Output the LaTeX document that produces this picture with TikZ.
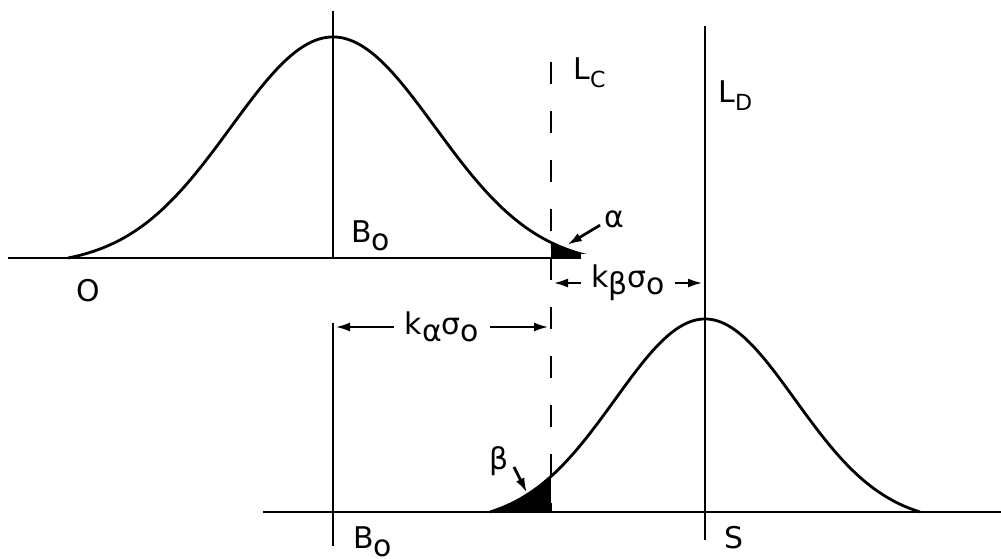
\documentclass[tikz,border=0pt]{standalone}
\usepackage{fontspec}
\setmainfont{DejaVu Sans}
\usetikzlibrary{arrows.meta}
\newcommand\dn[1]{\raisebox{-2pt}{#1}}
\newcommand\sdn[1]{\raisebox{-2.2pt}{\fontsize{6.3}{7}\selectfont #1}}

\begin{document}
\begin{tikzpicture}[
    x=0.01cm, y=-0.01cm,
    >={Latex[length=0.15cm,width=0.09cm]},
    line width=0.8pt,
    font=\fontsize{8.5}{10}\selectfont,
    lbl/.style={inner sep=0pt, anchor=base west},
    dim/.style={midway, fill=white, inner sep=3pt},
    bell/.style={smooth, samples=120}
]
\useasboundingbox (0,0) rectangle (1001,559);

% null distribution (top)
\draw (8,258) -- (657,258);
\draw plot[bell, domain=-2.598:2.598] ({333+102*\x},{258-221*(exp(-\x*\x/2)-0.0342)/0.9658});
\fill plot[bell, domain=2.137:2.598] ({333+102*\x},{258-221*(exp(-\x*\x/2)-0.0342)/0.9658}) -- (551,258) -- cycle;
\draw (333,11) -- (333,258);

% signal distribution (bottom)
\draw (263,512) -- (1001,512);
\draw plot[bell, domain=-2.389:2.389] ({705+90*\x},{512-193*(exp(-\x*\x/2)-0.0576)/0.9424});
\fill plot[bell, domain=-2.389:-1.711] ({705+90*\x},{512-193*(exp(-\x*\x/2)-0.0576)/0.9424}) -- (551,512) -- cycle;
\draw (333,323) -- (333,546);

% limits
\draw[dash pattern=on 0.22cm off 0.27cm] (551,62) -- (551,512);
\draw (705,26) -- (705,540);

% labels
\node[lbl] (Btop) at (350,243) {B\dn{o}};
\node[lbl, anchor=base] (O) at (88,302) {O};
\node[lbl] (LC) at (572,80) {L\sdn{C}};
\node[lbl] (LD) at (717,103) {L\sdn{D}};
\node[lbl] (Bbot) at (352,549) {B\dn{o}};
\node[lbl] (S) at (723,549) {S};

% tail areas
\node[lbl, inner sep=1pt] (alpha) at (600,228) {α};
\coordinate (alphaTip) at (567,245);
\draw[->] (alpha.200) -- (alphaTip);
\node[lbl, inner sep=1pt] (beta) at (485,470) {β};
\coordinate (betaTip) at (527,493);
\draw[->] (beta.-20) -- (betaTip);

% distances
\coordinate (kbL) at (553,283);
\coordinate (kbR) at (703,283);
\draw[<->] (kbL) -- (kbR) node[dim] {k\dn{β}σ\dn{o}};
\coordinate (kaL) at (335,327);
\coordinate (kaR) at (549,327);
\draw[<->] (kaL) -- (kaR) node[dim] {k\dn{α}σ\dn{o}};
\end{tikzpicture}
\end{document}
